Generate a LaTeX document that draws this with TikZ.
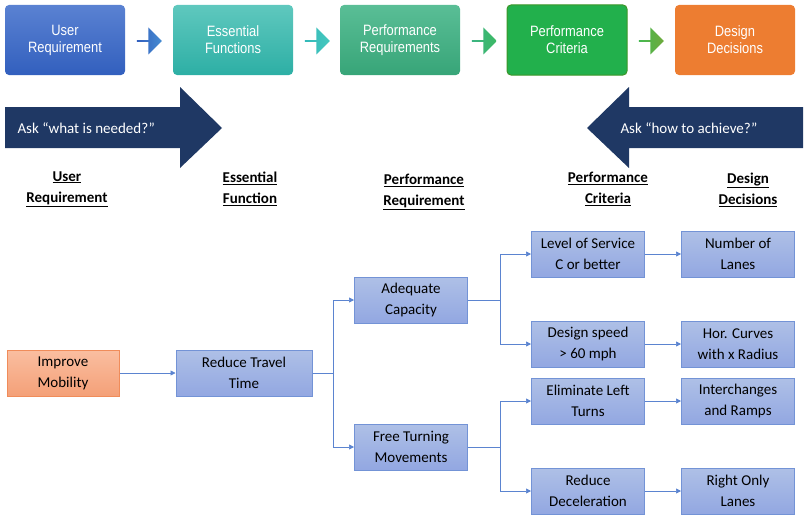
\documentclass[tikz,border=0pt]{standalone}
\usepackage{fontspec}
\setmainfont{Carlito}
\newfontfamily\narrowsans[FakeStretch=0.86]{Liberation Sans}
\usetikzlibrary{arrows.meta,shapes.arrows}
\definecolor{navy}{HTML}{1F3864}
\definecolor{bfill}{HTML}{9AB0E0}
\definecolor{bline}{HTML}{7393D6}
\definecolor{conn}{HTML}{5B84D0}
\begin{document}
\begin{tikzpicture}[x=1pt,y=-1pt,
 top/.style={rounded corners=4pt,minimum width=120pt,minimum height=70pt,text=white,align=center,font=\narrowsans\fontsize{15}{17}\selectfont,inner sep=0pt},
 stp/.style={single arrow,single arrow head extend=3pt,minimum height=25pt,minimum width=27pt,inner sep=0pt,single arrow tip angle=90},
 box/.style={draw=bline,line width=1pt,top color=bfill!80!white,bottom color=bfill!95!blue,minimum width=113pt,minimum height=46pt,align=center,font=\fontsize{15}{21}\selectfont,inner sep=0pt},
 head/.style={font=\bfseries\fontsize{15}{21}\selectfont,align=center},
 conn/.style={draw=conn,line width=0.7pt,-{Triangle[length=5pt,width=5pt]}}]
\useasboundingbox (0,0) rectangle (810,519);
% top row
\node[top,top color={rgb,255:red,90;green,130;blue,210},bottom color={rgb,255:red,50;green,95;blue,190}] (t1) at (65,40) {User\\Requirement};
\node[top,top color={rgb,255:red,95;green,200;blue,190},bottom color={rgb,255:red,45;green,175;blue,165}] (t2) at (233,40) {Essential\\Functions};
\node[top,top color={rgb,255:red,90;green,190;blue,150},bottom color={rgb,255:red,55;green,165;blue,120}] (t3) at (400,40) {Performance\\Requirements};
\node[top,fill={rgb,255:red,34;green,176;blue,76},draw={rgb,255:red,60;green,150;blue,40},line width=1pt] (t4) at (567,40) {Performance\\Criteria};
\node[top,fill={rgb,255:red,237;green,125;blue,49}] (t5) at (735,40) {Design\\Decisions};
\node[stp,left color={rgb,255:red,50;green,95;blue,190},right color={rgb,255:red,70;green,140;blue,210}] (a1) at (149,41) {};
\node[stp,left color={rgb,255:red,50;green,185;blue,185},right color={rgb,255:red,70;green,200;blue,190}] (a2) at (317,41) {};
\node[stp,left color={rgb,255:red,60;green,180;blue,130},right color={rgb,255:red,60;green,185;blue,100}] (a3) at (484,41) {};
\node[stp,left color={rgb,255:red,70;green,185;blue,80},right color={rgb,255:red,110;green,170;blue,60}] (a4) at (651,41) {};
% big arrows
\fill[navy] (5,107) -- (180,107) -- (180,87) -- (222,128) -- (180,168) -- (180,148) -- (5,148) -- cycle;
\node[text=white,font=\fontsize{15}{18}\selectfont,anchor=west] (askL) at (14,128) {Ask “what is needed?”};
\fill[navy] (803,107) -- (629,107) -- (629,87) -- (587,128) -- (629,168) -- (629,148) -- (803,148) -- cycle;
\node[text=white,font=\fontsize{15}{18}\selectfont,anchor=west] (askR) at (617,128) {Ask “how to achieve?”};
% headings
\node[head] (h1) at (67,189) {\underline{User}\\\underline{Requirement}};
\node[head] (h2) at (250,189) {\underline{Essential}\\\underline{Function}};
\node[head] (h3) at (424,192) {\underline{Performance}\\\underline{Requirement}};
\node[head] (h4) at (608,189) {\underline{Performance}\\\underline{Criteria}};
\node[head] (h5) at (748,190) {\underline{Design}\\\underline{Decisions}};
% boxes
\node[box,draw={rgb,255:red,240;green,140;blue,90},top color={rgb,255:red,250;green,190;blue,160},bottom color={rgb,255:red,244;green,160;blue,120},minimum width=112pt] (im) at (63,373) {Improve\\Mobility};
\node[box,minimum width=136pt] (rt) at (244,373) {Reduce Travel\\Time};
\node[box] (ac) at (411,300) {Adequate\\Capacity};
\node[box] (ft) at (411,447) {Free Turning\\Movements};
\node[box] (ls) at (588,254) {Level of Service\\C or better};
\node[box] (ds) at (588,344) {Design speed\\> 60 mph};
\node[box] (el) at (588,401) {Eliminate Left\\Turns};
\node[box] (rd) at (588,491) {Reduce\\Deceleration};
\node[box] (nl) at (738,254) {Number of\\Lanes};
\node[box] (hc) at (738,344) {Hor. Curves\\with x Radius};
\node[box] (ir) at (738,401) {Interchanges\\and Ramps};
\node[box] (ro) at (738,491) {Right Only\\Lanes};
% connectors
\draw[conn] (im) -- (rt);
\draw[conn] (rt.east) -- (333,373) |- (ac.west);
\draw[conn] (rt.east) -- (333,373) |- (ft.west);
\draw[conn] (ac.east) -- (500,300) |- (ls.west);
\draw[conn] (ac.east) -- (500,300) |- (ds.west);
\draw[conn] (ft.east) -- (500,447) |- (el.west);
\draw[conn] (ft.east) -- (500,447) |- (rd.west);
\draw[conn] (ls) -- (nl);
\draw[conn] (ds) -- (hc);
\draw[conn] (el) -- (ir);
\draw[conn] (rd) -- (ro);
\end{tikzpicture}
\end{document}
